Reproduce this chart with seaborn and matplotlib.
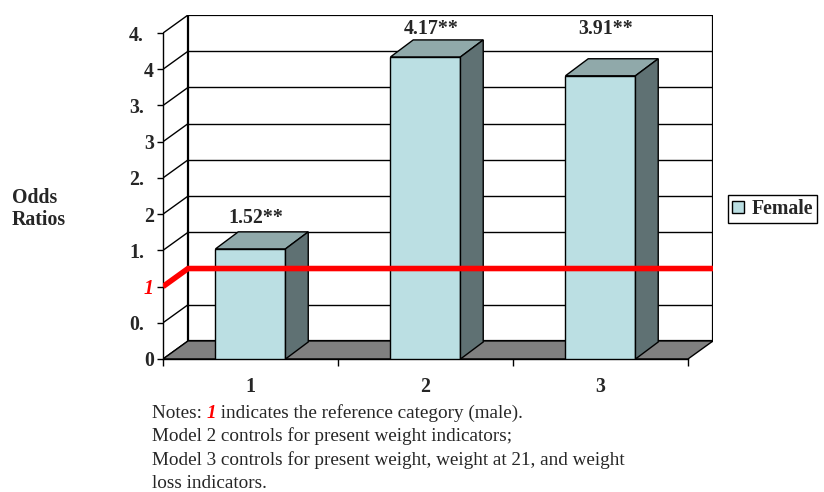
import numpy as np
import pandas as pd
import matplotlib
matplotlib.use("Agg")
import matplotlib.pyplot as plt
import seaborn as sns
from matplotlib.patches import Polygon, Patch
from matplotlib.transforms import ScaledTranslation

# ---- data -------------------------------------------------------------
models = ["1", "2", "3"]
odds_ratios = [1.52, 4.17, 3.91]
value_labels = ["1.52**", "4.17**", "3.91**"]
y_ticks = [0, 0.5, 1, 1.5, 2, 2.5, 3, 3.5, 4, 4.5]
y_tick_labels = ["0", "0.", "1", "1.", "2", "2.", "3", "3.", "4", "4."]
reference_value = 1.0
series_name = "Female"
y_title = "Odds\nRatios"
note_head = "Notes: "
note_ref = "1"
note_first_rest = " indicates the reference category (male)."
note_more = [
    "Model 2 controls for present weight indicators;",
    "Model 3 controls for present weight, weight at 21, and weight",
    "loss indicators.",
]

# ---- style ------------------------------------------------------------
FRONT = "#BBDFE3"
TOP = "#90A9AA"
SIDE = "#5F7173"
FLOOR = "#808080"
REF_RED = "#FF0000"
FS = 14.3        # bold chart text
FS_NOTE = 13.8   # notes below the chart

sns.set_theme(style="white")
plt.rcParams["font.family"] = ["Liberation Serif", "DejaVu Serif"]

fig = plt.figure(figsize=(8.24, 4.92), dpi=100)
W, H = 824, 492
ax = fig.add_axes([163 / W, 1 - 359 / H, (713 - 163) / W, (359 - 15) / H])

# depth of the pseudo-3D box, in data units
DX, DY = 0.143, 0.249
BDX, BDY = 0.13, 0.235   # bar depth

df = pd.DataFrame({"Model": models, "Odds ratio": odds_ratios})
sns.barplot(data=df, x="Model", y="Odds ratio", width=0.4, color=FRONT,
            saturation=1, edgecolor="black", linewidth=1, errorbar=None,
            ax=ax, zorder=3)
bars = list(ax.patches)

x_lo, x_hi = -0.5, len(models) - 0.5
y_top = y_ticks[-1]
ax.set_xlim(x_lo, x_hi + DX)
ax.set_ylim(0, y_top + DY)
ax.set_facecolor("none")

# back wall
ax.add_patch(Polygon([(x_lo + DX, DY), (x_lo + DX, y_top + DY),
                      (x_hi + DX, y_top + DY), (x_hi + DX, DY)],
                     closed=True, facecolor="white", edgecolor="black",
                     linewidth=1.6, zorder=0.5))
for v in y_ticks:
    # diagonals from the front axis to the back wall
    ax.plot([x_lo, x_lo + DX], [v, v + DY], color="black", lw=1, zorder=1,
            solid_capstyle="butt")
    if 0 < v < y_top:
        ax.plot([x_lo + DX, x_hi + DX], [v + DY, v + DY], color="black",
                lw=1, zorder=1)

# floor
ax.add_patch(Polygon([(x_lo, 0), (x_lo + DX, DY), (x_hi + DX, DY), (x_hi, 0)],
                     closed=True, facecolor=FLOOR, edgecolor="black",
                     linewidth=1, zorder=1.5))

# top and side faces of each bar
for b in bars:
    x0 = b.get_x()
    x1 = x0 + b.get_width()
    h = b.get_height()
    ax.add_patch(Polygon([(x0, h), (x0 + BDX, h + BDY), (x1 + BDX, h + BDY), (x1, h)],
                         closed=True, facecolor=TOP, edgecolor="black",
                         linewidth=1, zorder=3))
    ax.add_patch(Polygon([(x1, 0), (x1 + BDX, BDY), (x1 + BDX, h + BDY), (x1, h)],
                         closed=True, facecolor=SIDE, edgecolor="black",
                         linewidth=1, zorder=3))

# value labels (tall bars share a row just under the top of the wall)
top_row = 4.55
for b, v, s in zip(bars, odds_ratios, value_labels):
    cx = b.get_x() + b.get_width() / 2 + 0.03
    y = top_row if v > 3.5 else v + 0.42
    ax.text(cx, y, s, ha="center", va="center", fontsize=FS,
            fontweight="bold", zorder=5)

# reference line at odds ratio 1
ax.plot([x_lo, x_lo + DX, x_hi + DX],
        [reference_value, reference_value + DY, reference_value + DY],
        color=REF_RED, lw=4, zorder=4, solid_capstyle="butt",
        solid_joinstyle="miter")

# axes, ticks
for side in ("top", "right"):
    ax.spines[side].set_visible(False)
ax.spines["left"].set_bounds(0, y_top)
ax.spines["bottom"].set_bounds(x_lo, x_hi)
for side in ("left", "bottom"):
    ax.spines[side].set_color("black")
    ax.spines[side].set_linewidth(1)
    ax.spines[side].set_zorder(2)

ax.set_xlabel("")
ax.set_ylabel("")
ax.set_yticks(y_ticks, labels=y_tick_labels)
ax.set_xticks(range(len(models)), labels=models)
ax.set_xticks(np.arange(x_lo, x_hi + 0.01, 1.0), minor=True)
ax.tick_params(axis="y", which="major", left=True, direction="out",
               length=4.5, width=1, pad=2, labelsize=FS, color="black")
ax.tick_params(axis="x", which="major", bottom=True, length=0, pad=13,
               labelsize=FS)
ax.tick_params(axis="x", which="minor", bottom=True, direction="out",
               length=5, width=1, color="black")

# half-step labels are shown truncated ("4." for 4.5), so they sit where
# the leading part of the full label would be
shift = ScaledTranslation(-10 / 100, 0, fig.dpi_scale_trans)
for v, lbl in zip(y_ticks, ax.get_yticklabels()):
    lbl.set_fontweight("bold")
    if v != int(v):
        lbl.set_transform(lbl.get_transform() + shift)
    if v == reference_value:
        lbl.set_color(REF_RED)
        lbl.set_fontstyle("italic")
for lbl in ax.get_xticklabels():
    lbl.set_fontweight("bold")

# axis title
fig.text(12 / W, 1 - 209 / H, y_title, ha="left", va="center",
         fontsize=FS, fontweight="bold", linespacing=1.15)

# legend
fig.legend(handles=[Patch(facecolor=FRONT, edgecolor="black", label=series_name)],
           loc="center left", bbox_to_anchor=(728 / W, 1 - 209 / H),
           frameon=True, fancybox=False, edgecolor="black", framealpha=1,
           prop={"weight": "bold", "size": FS}, handlelength=0.6,
           handleheight=0.6, handletextpad=0.4, borderpad=0.2,
           borderaxespad=0)

# notes
t1 = fig.text(152 / W, 1 - 413 / H, note_head, ha="left", va="center",
              fontsize=FS_NOTE)
t2 = ax.annotate(note_ref, xy=(1, 0), xycoords=t1, ha="left", va="bottom",
                 fontsize=FS_NOTE, color=REF_RED, fontweight="bold",
                 fontstyle="italic", annotation_clip=False)
ax.annotate(note_first_rest, xy=(1, 0), xycoords=t2, ha="left", va="bottom",
            fontsize=FS_NOTE, annotation_clip=False)
for i, line in enumerate(note_more):
    fig.text(152 / W, 1 - (436 + 24 * i) / H, line, ha="left", va="center",
             fontsize=FS_NOTE)

fig.savefig("out.png", dpi=100)
